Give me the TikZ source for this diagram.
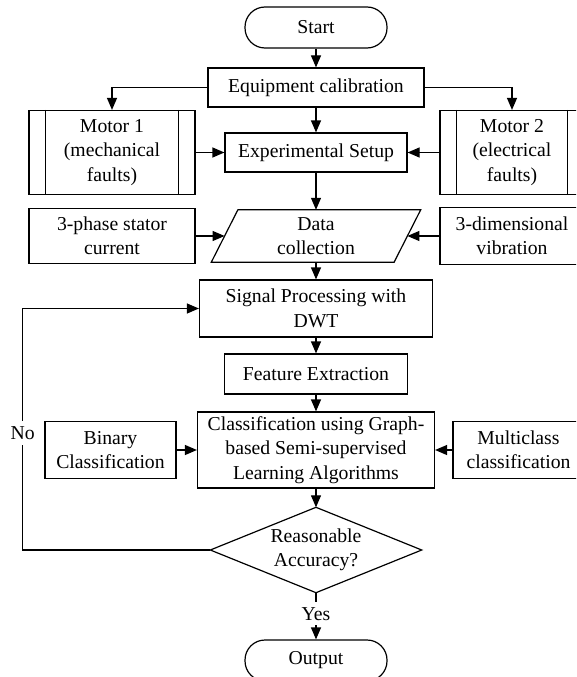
\documentclass[tikz,border=0pt]{standalone}
\usepackage{fontspec}
\setmainfont{Liberation Serif}
\usetikzlibrary{arrows.meta,calc}
\begin{document}
\begin{tikzpicture}[x=1pt,y=-1pt,
  every node/.style={font=\fontsize{19.7}{24.5}\selectfont, align=center, inner sep=0pt},
  box/.style={draw, line width=1.2pt, rectangle},
  term/.style={draw, line width=1.2pt, rectangle, rounded corners=20pt},
  ghost/.style={rectangle},
  arr/.style={line width=1.2pt, -{Triangle[length=12pt,width=10pt]}},
  plain/.style={line width=1.2pt},
  lbl/.style={fill=white, inner xsep=1pt, inner ysep=5pt}]
\useasboundingbox (0,0) rectangle (576,677);
\clip (0,0) rectangle (576,677);

% main column
\node[term, minimum width=142pt, minimum height=41pt] (start) at (316,27.5) {Start};
\node[box, minimum width=216pt, minimum height=39pt] (equip) at (316,87.5) {Equipment calibration};
\node[box, minimum width=182pt, minimum height=39pt] (exp) at (316,152.5) {Experimental Setup};
\node[ghost, minimum width=182.4pt, minimum height=52pt] (data) at (316,236) {Data\\collection};
\node[box, minimum width=233pt, minimum height=57pt] (signal) at (316,308.5) {Signal Processing with\\DWT};
\node[box, minimum width=183pt, minimum height=40pt] (feat) at (316,374) {Feature Extraction};
\node[box, minimum width=237pt, minimum height=76pt] (class) at (316,450) {Classification using Graph-\\based Semi-supervised\\Learning Algorithms};
\node[ghost, minimum width=211pt, minimum height=85pt] (dia) at (316,550) {Reasonable\\Accuracy?};
\node[term, minimum width=142pt, minimum height=41pt] (out) at (316,660.5) {Output};

% side nodes
\node[box, minimum width=166pt, minimum height=84pt] (m1) at (112,152.5) {Motor 1\\(mechanical\\faults)};
\node[box, minimum width=144pt, minimum height=84pt] (m2) at (512,152.5) {Motor 2\\(electrical\\faults)};
\node[box, minimum width=166pt, minimum height=55pt] (stator) at (112,236) {3-phase stator\\current};
\node[box, minimum width=144pt, minimum height=57pt] (vib) at (512,236) {3-dimensional\\vibration};
\node[box, minimum width=131pt, minimum height=57pt] (bin) at (110.5,450) {Binary\\Classification};
\node[box, minimum width=131pt, minimum height=57pt] (multi) at (518.5,450) {Multiclass\\classification};

% predefined-process side bars
\draw[plain] ([xshift=17pt]m1.north west) -- ([xshift=17pt]m1.south west);
\draw[plain] ([xshift=-17pt]m1.north east) -- ([xshift=-17pt]m1.south east);
\draw[plain] ([xshift=17pt]m2.north west) -- ([xshift=17pt]m2.south west);
\draw[plain] ([xshift=-17pt]m2.north east) -- ([xshift=-17pt]m2.south east);

% parallelogram and diamond outlines
\draw[plain] ($(data.north west)+(13.3,0)$) -- ($(data.north east)+(13.3,0)$)
  -- ($(data.south east)+(-13.3,0)$) -- ($(data.south west)+(-13.3,0)$) -- cycle;
\draw[plain] (dia.north) -- (dia.east) -- (dia.south) -- (dia.west) -- cycle;

% connectors
\draw[arr] (start) -- (equip);
\draw[arr] (equip.west) -| (m1.north);
\draw[arr] (equip.east) -| (m2.north);
\draw[arr] (equip) -- (exp);
\draw[arr] (m1.east) -- (exp.west);
\draw[arr] (m2.west) -- (exp.east);
\draw[arr] (exp) -- (data);
\draw[arr] (stator.east) -- (data.west);
\draw[arr] (vib.west) -- (data.east);
\draw[arr] (data) -- (signal);
\draw[arr] (signal) -- (feat);
\draw[arr] (feat) -- (class);
\draw[arr] (bin.east) -- (class.west);
\draw[arr] (multi.west) -- (class.east);
\draw[arr] (class) -- (dia.north);
\coordinate (fb) at (22.7,0);
\draw[arr] (dia.west) -- (dia.west -| fb) -- (signal.west -| fb) -- (signal.west);
\node[lbl] (no) at (22.7,433) {No};
\draw[arr] (dia.south) -- node[lbl, pos=0.45] (yes) {Yes} (out.north);
\end{tikzpicture}
\end{document}
